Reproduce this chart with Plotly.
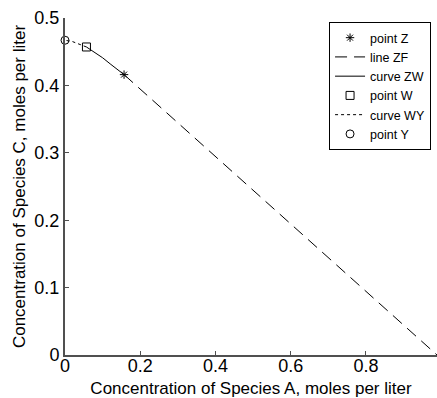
import plotly.graph_objects as go

# Data
point_Z = (0.157, 0.416)
point_W = (0.057, 0.457)
point_Y = (0.0, 0.467)
line_ZF_x = [0.157, 0.989]
line_ZF_y = [0.416, 0.0]
curve_ZW_x = [0.057, 0.08, 0.10, 0.12, 0.14, 0.157]
curve_ZW_y = [0.457, 0.449, 0.441, 0.432, 0.424, 0.416]
curve_WY_x = [0.057, 0.04, 0.02, 0.0]
curve_WY_y = [0.457, 0.461, 0.465, 0.467]
x_ticks = [0, 0.2, 0.4, 0.6, 0.8]
x_tick_labels = ["0", "0.2", "0.4", "0.6", "0.8"]
y_ticks = [0, 0.1, 0.2, 0.3, 0.4, 0.5]
y_tick_labels = ["0", "0.1", "0.2", "0.3", "0.4", "0.5"]

fig = go.Figure()
fig.add_trace(go.Scatter(x=[point_Z[0]], y=[point_Z[1]], mode="markers", name="point Z",
                         marker=dict(symbol="asterisk-open", size=7, color="black",
                                     line=dict(color="black", width=1))))
fig.add_trace(go.Scatter(x=line_ZF_x, y=line_ZF_y, mode="lines", name="line ZF",
                         line=dict(color="black", width=1, dash="12px,7px")))
fig.add_trace(go.Scatter(x=curve_ZW_x, y=curve_ZW_y, mode="lines", name="curve ZW",
                         line=dict(color="black", width=1)))
fig.add_trace(go.Scatter(x=[point_W[0]], y=[point_W[1]], mode="markers", name="point W",
                         marker=dict(symbol="square-open", size=8, color="black",
                                     line=dict(color="black", width=1))))
fig.add_trace(go.Scatter(x=curve_WY_x, y=curve_WY_y, mode="lines", name="curve WY",
                         line=dict(color="black", width=1, dash="3px,3px")))
fig.add_trace(go.Scatter(x=[point_Y[0]], y=[point_Y[1]], mode="markers", name="point Y",
                         marker=dict(symbol="circle-open", size=8, color="black",
                                     line=dict(color="black", width=1))))
fig.update_traces(cliponaxis=False)

axis_common = dict(showgrid=False, zeroline=False, showline=True, linecolor="#505050",
                   linewidth=2, ticks="inside", ticklen=4, tickcolor="#505050",
                   tickfont=dict(size=18, color="black"), mirror=False, automargin=False)

fig.update_layout(
    width=437, height=398,
    margin=dict(l=65, r=0, t=18, b=43),
    paper_bgcolor="white", plot_bgcolor="white",
    font=dict(family="Liberation Sans, Arial, sans-serif", color="black"),
    showlegend=True,
    legend=dict(x=0.984, y=0.988, xanchor="right", yanchor="top",
                bgcolor="white", bordercolor="black", borderwidth=1,
                font=dict(size=12.5), tracegroupgap=0, itemwidth=30),
    xaxis=dict(range=[0, 0.989], tickvals=x_ticks, ticktext=x_tick_labels,
               ticklabelstandoff=-7,
               title=dict(text="Concentration of Species A, moles per liter",
                          font=dict(size=17), standoff=11), **axis_common),
    yaxis=dict(range=[0, 0.5], tickvals=y_ticks, ticktext=y_tick_labels,
               title=dict(text="Concentration of Species C, moles per liter",
                          font=dict(size=17), standoff=4), **axis_common),
)

fig.write_html("out.html", config={"displayModeBar": False},
               post_script="document.body.style.margin='0';document.body.style.overflow='hidden';")
